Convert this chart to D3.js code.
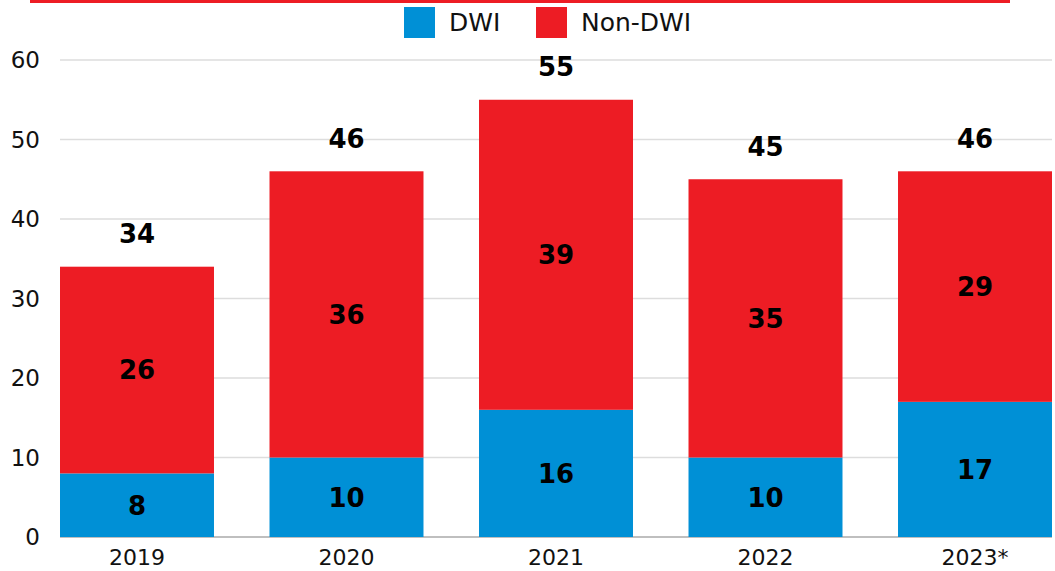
<!DOCTYPE html>
<html>
<head>
<meta charset="utf-8">
<script src="https://cdn.jsdelivr.net/npm/d3@7"></script>
<style>
  body { margin: 0; background: #fff; }
  text { font-family: "DejaVu Sans", "Noto Sans", sans-serif; }
</style>
</head>
<body>
<svg id="chart" width="1055" height="571"></svg>
<script>
// chart data
var years = ["2019", "2020", "2021", "2022", "2023*"];
var dwi = [8, 10, 16, 10, 17];
var nonDwi = [26, 36, 39, 35, 29];
var yTicks = [0, 10, 20, 30, 40, 50, 60];
var seriesNames = ["DWI", "Non-DWI"];
var colors = ["#0090d6", "#ed1c24"];

var svg = d3.select("#chart"),
    margin = {top: 60, right: 3, bottom: 34, left: 60},
    width = 1055 - margin.left - margin.right,
    height = 571 - margin.top - margin.bottom;

// red rule across the top
svg.append("rect")
    .attr("x", 30).attr("y", 0)
    .attr("width", 980).attr("height", 3)
    .attr("fill", colors[1]);

var g = svg.append("g")
    .attr("transform", "translate(" + margin.left + "," + margin.top + ")");

var x = d3.scaleBand().domain(years).range([0, width]).paddingInner(0.265).paddingOuter(0);
var y = d3.scaleLinear().domain([0, 60]).range([height, 0]);

// gridlines
g.selectAll(".grid")
    .data(yTicks)
  .enter().append("line")
    .attr("x1", 0).attr("x2", width)
    .attr("y1", function(d) { return y(d); })
    .attr("y2", function(d) { return y(d); })
    .attr("stroke", function(d) { return d === 0 ? "#aaa" : "#ddd"; })
    .attr("stroke-width", 1.5);

// y tick labels
g.selectAll(".ylab")
    .data(yTicks)
  .enter().append("text")
    .attr("x", -20)
    .attr("y", function(d) { return y(d); })
    .attr("dy", "0.36em")
    .attr("text-anchor", "end")
    .attr("font-size", 23)
    .attr("fill", "#111")
    .text(function(d) { return d; });

// stacked bars
var rows = years.map(function(yr, i) { return {year: yr, DWI: dwi[i], "Non-DWI": nonDwi[i]}; });
var stack = d3.stack().keys(seriesNames)(rows);

var layers = g.selectAll(".layer")
    .data(stack)
  .enter().append("g")
    .attr("fill", function(d, i) { return colors[i]; });

layers.selectAll("rect")
    .data(function(d) { return d; })
  .enter().append("rect")
    .attr("x", function(d) { return x(d.data.year); })
    .attr("y", function(d) { return y(d[1]); })
    .attr("width", x.bandwidth())
    .attr("height", function(d) { return y(d[0]) - y(d[1]); });

// segment labels
layers.selectAll("text")
    .data(function(d) { return d; })
  .enter().append("text")
    .attr("x", function(d) { return x(d.data.year) + x.bandwidth() / 2; })
    .attr("y", function(d) { return (y(d[0]) + y(d[1])) / 2; })
    .attr("dy", "0.36em")
    .attr("text-anchor", "middle")
    .attr("font-size", 26)
    .attr("font-weight", "bold")
    .attr("fill", "#000")
    .text(function(d) { return d[1] - d[0]; });

// totals
g.selectAll(".total")
    .data(rows)
  .enter().append("text")
    .attr("x", function(d) { return x(d.year) + x.bandwidth() / 2; })
    .attr("y", function(d) { return y(d.DWI + d["Non-DWI"]) - 33; })
    .attr("dy", "0.36em")
    .attr("text-anchor", "middle")
    .attr("font-size", 26)
    .attr("font-weight", "bold")
    .attr("fill", "#000")
    .text(function(d) { return d.DWI + d["Non-DWI"]; });

// year labels
g.selectAll(".xlab")
    .data(years)
  .enter().append("text")
    .attr("x", function(d) { return x(d) + x.bandwidth() / 2; })
    .attr("y", height + 28)
    .attr("text-anchor", "middle")
    .attr("font-size", 22)
    .attr("fill", "#111")
    .text(function(d) { return d; });

// legend
var legendX = [404, 536];
var legend = svg.selectAll(".legend")
    .data(seriesNames)
  .enter().append("g")
    .attr("transform", function(d, i) { return "translate(" + legendX[i] + ",7)"; });

legend.append("rect")
    .attr("width", 31).attr("height", 31)
    .attr("fill", function(d, i) { return colors[i]; });

legend.append("text")
    .attr("x", 45).attr("y", 15)
    .attr("dy", "0.36em")
    .attr("font-size", 25)
    .attr("fill", "#111")
    .text(function(d) { return d; });
</script>
</body>
</html>
